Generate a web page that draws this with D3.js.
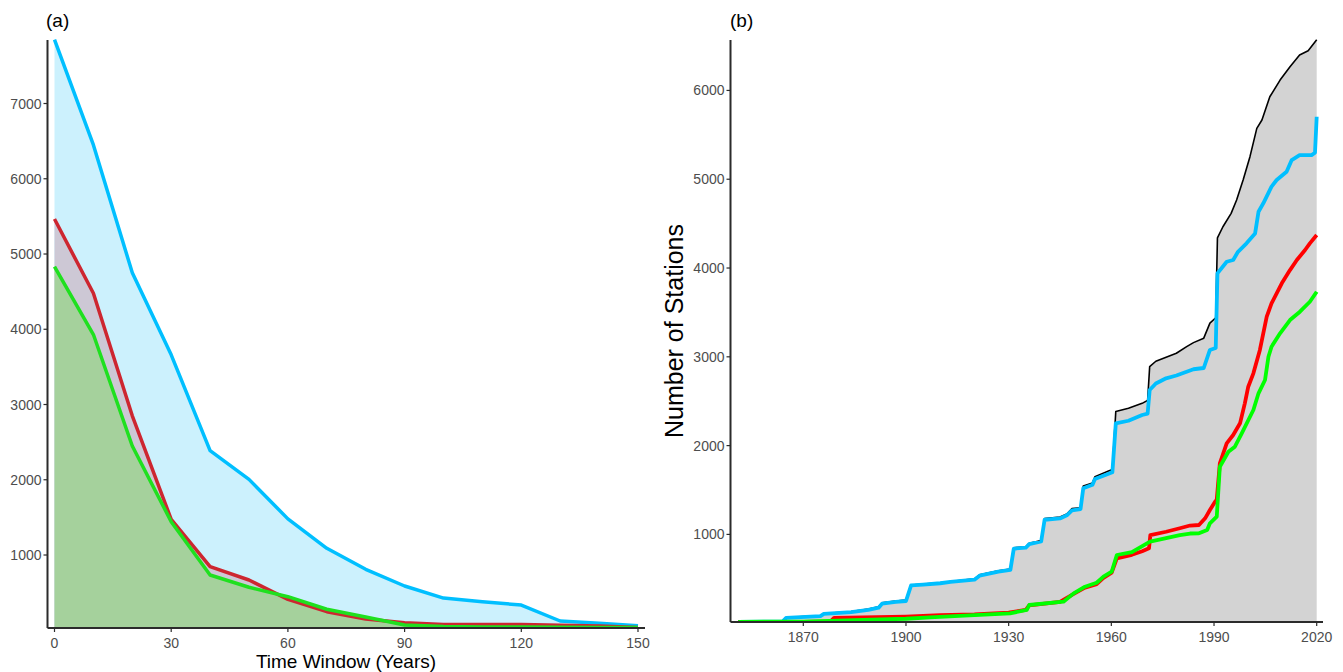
<!DOCTYPE html>
<html>
<head>
<meta charset="utf-8">
<script src="https://cdn.jsdelivr.net/npm/d3@7/dist/d3.min.js"></script>
<style>
body { margin: 0; background: #fff; }
svg text { font-family: "Liberation Sans", Arial, Helvetica, sans-serif; }
</style>
</head>
<body>
<div class="drawingArea"></div>
<script>
// ---- panel (a): stations vs time window ----
var windowYears = [0, 10, 20, 30, 40, 50, 60, 70, 80, 90, 100, 110, 120, 130, 140, 150];
var windowAll   = [7850, 6450, 4750, 3660, 2386, 2005, 1480, 1089, 810, 588, 428, 380, 335, 123, 92, 60];
var windowRed   = [5465, 4478, 2850, 1474, 845, 668, 411, 247, 150, 100, 78, 76, 76, 66, 56, 37];
var windowGreen = [4831, 3930, 2449, 1443, 734, 571, 446, 279, 175, 70, 50, 43, 43, 40, 38, 35];
var ticksAx = [0, 30, 60, 90, 120, 150];
var ticksAy = [1000, 2000, 3000, 4000, 5000, 6000, 7000];

// ---- panel (b): number of stations through time ----
var blackYears = [1851, 1864, 1865, 1875, 1876, 1884, 1889, 1892, 1893, 1897, 1900, 1901.5, 1905, 1910, 1913, 1920, 1921.5, 1927, 1930.5, 1931.5, 1935, 1936, 1939.5, 1940.5, 1945, 1947, 1948.5, 1951, 1951.8, 1954.5, 1955.2, 1959, 1960.3, 1961.3, 1965, 1969, 1970.6, 1971.2, 1973, 1976, 1979, 1982, 1984, 1987, 1988.8, 1990.5, 1991, 1992.6, 1995, 1996.6, 1998.5, 2000.5, 2002.5, 2004, 2006.3, 2009.3, 2012.2, 2015, 2017.5, 2020];
var blackCount = [20, 25, 65, 85, 110, 130, 160, 185, 230, 250, 260, 430, 440, 455, 470, 500, 545, 590, 610, 850, 860, 900, 930, 1180, 1195, 1230, 1290, 1300, 1545, 1580, 1650, 1710, 1730, 2385, 2420, 2476, 2510, 2890, 2950, 2995, 3040, 3115, 3160, 3210, 3380, 3440, 4340, 4465, 4616, 4766, 4991, 5254, 5573, 5667, 5929, 6117, 6267, 6399, 6447, 6570];

var blueYears = [1851, 1864, 1865, 1875, 1876, 1884, 1889, 1892, 1893, 1897, 1900, 1901.5, 1905, 1910, 1913, 1920, 1921.5, 1927, 1930.5, 1931.5, 1935, 1936, 1939.5, 1940.5, 1945, 1947, 1948.5, 1951, 1951.8, 1954.5, 1955.2, 1959, 1960.3, 1961.3, 1965, 1969, 1970.6, 1971.2, 1973, 1976, 1979, 1982, 1984, 1987, 1988.8, 1990.5, 1991, 1993.7, 1995.6, 1997, 1999.5, 2002, 2003, 2004.4, 2006.8, 2008.3, 2011.2, 2012.7, 2015, 2018.5, 2019.5, 2020];
var blueCount = [15, 20, 60, 80, 105, 125, 150, 175, 220, 240, 250, 425, 435, 450, 465, 490, 535, 580, 600, 840, 850, 890, 920, 1165, 1180, 1215, 1270, 1285, 1520, 1560, 1625, 1680, 1700, 2250, 2280, 2345, 2360, 2626, 2700, 2758, 2790, 2832, 2860, 2874, 3077, 3100, 3940, 4071, 4090, 4183, 4278, 4390, 4634, 4729, 4916, 4991, 5085, 5216, 5272, 5272, 5298, 5704];

var redYears = [1851, 1870, 1878, 1879, 1900, 1910, 1920, 1930, 1935, 1936, 1945, 1949, 1952.3, 1955.7, 1957.7, 1960.1, 1961.6, 1966, 1969, 1971, 1971.4, 1976, 1980, 1983, 1985.6, 1987.4, 1988.8, 1990.3, 1990.8, 1991.7, 1993.7, 1995.6, 1997.6, 1999, 2000, 2001.5, 2003.4, 2005.4, 2006.8, 2009.8, 2012.2, 2014.2, 2016.6, 2018, 2020];
var redCount = [15, 15, 20, 60, 75, 90, 100, 120, 150, 200, 240, 330, 400, 440, 510, 570, 730, 770, 810, 843, 993, 1030, 1069, 1100, 1106, 1181, 1275, 1368, 1390, 1800, 2026, 2119, 2251, 2476, 2663, 2814, 3077, 3452, 3602, 3828, 3977, 4090, 4203, 4278, 4372];

var greenYears = [1851, 1870, 1880, 1900, 1907, 1920, 1930.4, 1935.3, 1936, 1946, 1949, 1952.3, 1955.7, 1957.7, 1960.1, 1961.6, 1966, 1971.3, 1975, 1980, 1983, 1985.6, 1988, 1988.8, 1990.8, 1991.7, 1994.2, 1996.1, 1998.1, 2001.5, 2003, 2004.9, 2005.9, 2006.8, 2009.3, 2012.2, 2015.1, 2018, 2020];
var greenCount = [15, 18, 30, 50, 66, 90, 111, 149, 205, 242, 336, 411, 456, 524, 580, 768, 800, 918, 950, 993, 1010, 1012, 1050, 1125, 1200, 1762, 1931, 1988, 2138, 2401, 2589, 2739, 3001, 3114, 3265, 3414, 3508, 3620, 3733];

var ticksBx = [1870, 1900, 1930, 1960, 1990, 2020];
var ticksBy = [1000, 2000, 3000, 4000, 5000, 6000];

var width = 1343, height = 672;
var svg = d3.select(".drawingArea").append("svg")
    .attr("width", width)
    .attr("height", height);

function zip(xs, ys) {
    return xs.map(function(x, i) { return [x, ys[i]]; });
}

function drawAxes(g, x, y, xTicks, yTicks, x0, x1, y0, y1) {
    var axisColor = "#2b2b2b";
    g.append("line").attr("x1", x0).attr("x2", x0).attr("y1", y0).attr("y2", y1)
        .attr("stroke", axisColor).attr("stroke-width", 2);
    g.append("line").attr("x1", x0).attr("x2", x1).attr("y1", y1).attr("y2", y1)
        .attr("stroke", axisColor).attr("stroke-width", 2);

    yTicks.forEach(function(t) {
        g.append("line").attr("x1", x0 - 4).attr("x2", x0).attr("y1", y(t)).attr("y2", y(t))
            .attr("stroke", axisColor).attr("stroke-width", 1.2);
        g.append("text").attr("x", x0 - 6).attr("y", y(t) + 5)
            .attr("text-anchor", "end").attr("fill", "#4d4d4d").style("font-size", "14px")
            .text(t);
    });
    xTicks.forEach(function(t) {
        g.append("line").attr("x1", x(t)).attr("x2", x(t)).attr("y1", y1).attr("y2", y1 + 4)
            .attr("stroke", axisColor).attr("stroke-width", 1.2);
        g.append("text").attr("x", x(t)).attr("y", y1 + 20)
            .attr("text-anchor", "middle").attr("fill", "#4d4d4d").style("font-size", "14px")
            .text(t);
    });
}

// ---- panel (a) ----
var ga = svg.append("g");
var xA = d3.scaleLinear().domain([0, 150]).range([54.5, 638]);
var yA = d3.scaleLinear().domain([30, 7844]).range([628, 40]);

ga.append("clipPath").attr("id", "clipA").append("rect")
    .attr("x", 48).attr("y", 38).attr("width", 597).attr("height", 590);

var plotA = ga.append("g").attr("clip-path", "url(#clipA)");

var areaA = d3.area().x(function(d) { return xA(d[0]); }).y0(628).y1(function(d) { return yA(d[1]); });
var lineA = d3.line().x(function(d) { return xA(d[0]); }).y(function(d) { return yA(d[1]); });

var seriesA = [
    { vals: windowAll, fill: "#ccf1fd", stroke: "#00bfff" },
    { vals: windowRed, fill: "#cdc8d5", stroke: "#cd2630" },
    { vals: windowGreen, fill: "#a5d19c", stroke: "#1fe01f" }
];
seriesA.forEach(function(s) {
    plotA.append("path").datum(zip(windowYears, s.vals))
        .attr("d", areaA).attr("fill", s.fill);
});
seriesA.forEach(function(s) {
    plotA.append("path").datum(zip(windowYears, s.vals))
        .attr("d", lineA).attr("fill", "none")
        .attr("stroke", s.stroke).attr("stroke-width", 3.5)
        .attr("stroke-linejoin", "round");
});

drawAxes(ga, xA, yA, ticksAx, ticksAy, 47.5, 645, 40, 628);

ga.append("text").attr("x", 346).attr("y", 668)
    .attr("text-anchor", "middle").style("font-size", "19px").attr("fill", "#000")
    .text("Time Window (Years)");
ga.append("text").attr("x", 46).attr("y", 27)
    .style("font-size", "19px").attr("fill", "#000")
    .text("(a)");

// ---- panel (b) ----
var gb = svg.append("g");
var xB = d3.scaleLinear().domain([1870, 2020]).range([803.3, 1316.7]);
var yB = d3.scaleLinear().domain([13.5, 6568]).range([622, 40]);

gb.append("clipPath").attr("id", "clipB").append("rect")
    .attr("x", 731).attr("y", 36).attr("width", 592).attr("height", 586);

var plotB = gb.append("g").attr("clip-path", "url(#clipB)");

var areaB = d3.area().x(function(d) { return xB(d[0]); }).y0(622).y1(function(d) { return yB(d[1]); });
var lineB = d3.line().x(function(d) { return xB(d[0]); }).y(function(d) { return yB(d[1]); });

plotB.append("path").datum(zip(blackYears, blackCount))
    .attr("d", areaB).attr("fill", "#d3d3d3");

var seriesB = [
    { xs: blackYears, vals: blackCount, stroke: "#000000", w: 1.6 },
    { xs: blueYears, vals: blueCount, stroke: "#00bfff", w: 3.8 },
    { xs: redYears, vals: redCount, stroke: "#ff0000", w: 3.8 },
    { xs: greenYears, vals: greenCount, stroke: "#00ff00", w: 3.8 }
];
seriesB.forEach(function(s) {
    plotB.append("path").datum(zip(s.xs, s.vals))
        .attr("d", lineB).attr("fill", "none")
        .attr("stroke", s.stroke).attr("stroke-width", s.w)
        .attr("stroke-linejoin", "round");
});

drawAxes(gb, xB, yB, ticksBx, ticksBy, 730.5, 1323, 40, 622);

gb.append("text")
    .attr("transform", "translate(683,331) rotate(-90)")
    .attr("text-anchor", "middle").style("font-size", "25px").attr("fill", "#000")
    .text("Number of Stations");
gb.append("text").attr("x", 730).attr("y", 27)
    .style("font-size", "19px").attr("fill", "#000")
    .text("(b)");
</script>
</body>
</html>
